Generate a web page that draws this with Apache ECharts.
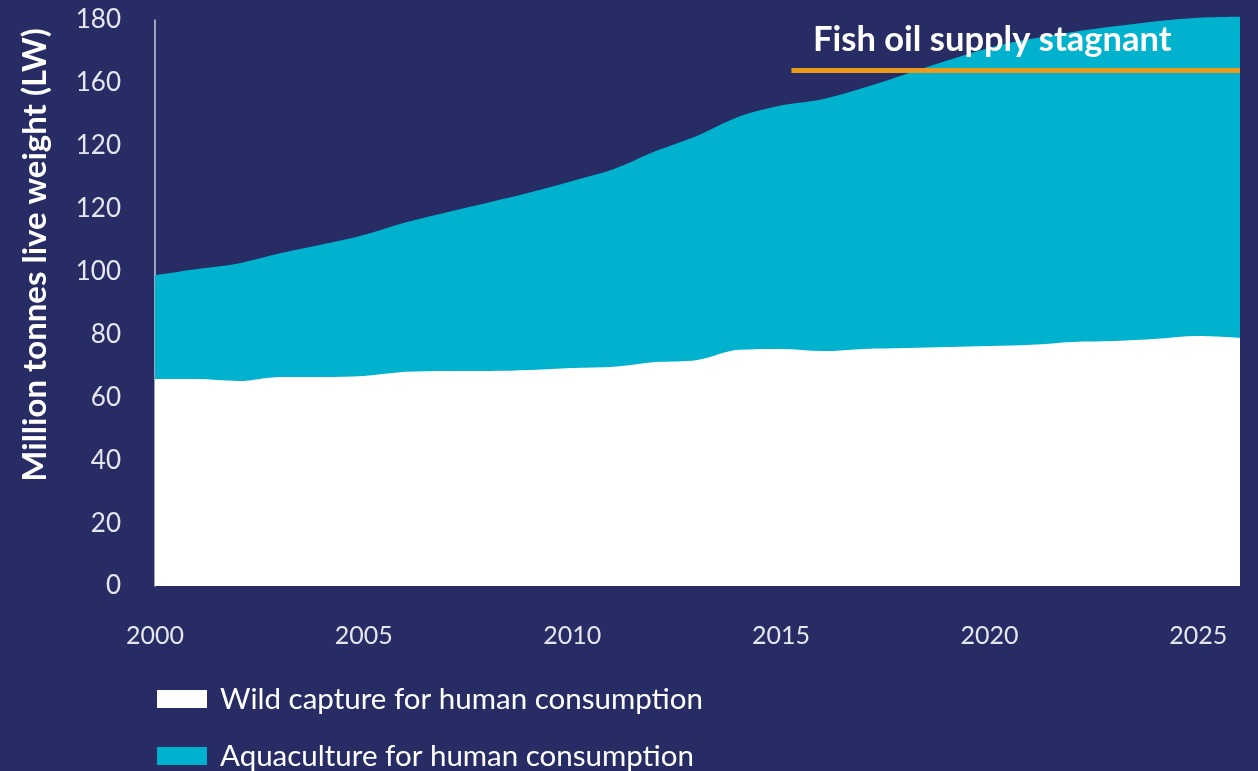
<!DOCTYPE html>
<html>
<head>
<meta charset="utf-8">
<script src="https://cdn.jsdelivr.net/npm/echarts@6/dist/echarts.min.js"></script>
<style>
  html, body { margin: 0; padding: 0; background: #272C65; }
  #chart { width: 1258px; height: 771px; }
</style>
</head>
<body>
<div id="chart"></div>
<script>
// Years covered by the series
const years = [2000, 2001, 2002, 2003, 2004, 2005, 2006, 2007, 2008, 2009,
               2010, 2011, 2012, 2013, 2014, 2015, 2016, 2017, 2018, 2019,
               2020, 2021, 2022, 2023, 2024, 2025, 2026];

// Million tonnes live weight
const wildCapture = [65.8, 65.8, 65.2, 66.5, 66.5, 66.8, 68.1, 68.4, 68.4, 68.7,
                     69.3, 69.7, 71.2, 71.9, 75.1, 75.4, 74.7, 75.4, 75.7, 76.0,
                     76.3, 76.7, 77.6, 77.9, 78.6, 79.5, 78.9];
const aquaculture = [33.0, 35.0, 37.4, 39.3, 42.1, 44.8, 47.5, 50.5, 53.6, 56.5,
                     59.5, 62.9, 67.1, 71.3, 74.2, 77.4, 80.1, 83.1, 87.1, 91.2,
                     94.9, 97.3, 98.6, 100.1, 101.0, 101.2, 102.1];

// Y tick labels as printed on the axis
const yTickLabels = ['0', '20', '40', '60', '80', '100', '120', '120', '160', '180'];

// Fish oil supply level line
const fishOilStart = 2015.25;
const fishOilEnd = 2026;
const fishOilLevel = 164;

const seriesNames = ['Wild capture for human consumption', 'Aquaculture for human consumption'];
const seriesColors = ['#FFFFFF', '#00B2CE'];

const FONT = 'Lato, "Open Sans", sans-serif';
const chart = echarts.init(document.getElementById('chart'));

// Aquaculture sits on top of wild capture: its band is drawn up to the running total,
// and the wild capture area is painted over it.
const wildPairs = years.map((y, i) => [y, wildCapture[i]]);
const totalPairs = years.map((y, i) => [y, +(wildCapture[i] + aquaculture[i]).toFixed(2)]);

// One single-item legend per series, stacked vertically under the axis
const legendTops = [684, 741];
const legends = seriesNames.map((name, i) => ({
  orient: 'horizontal',
  left: 157,
  top: legendTops[i],
  padding: 0,
  itemWidth: 50,
  itemHeight: 18,
  icon: 'rect',
  data: [name],
  textStyle: {
    color: '#FFFFFF', fontFamily: FONT, fontSize: 29.5,
    padding: [0, 0, 0, 8]
  }
}));

chart.setOption({
  backgroundColor: '#272C65',
  animation: false,
  grid: { left: 155, right: 18, top: 20, bottom: 185 },
  xAxis: {
    type: 'value',
    min: 2000,
    max: 2026,
    interval: 5,
    axisLine: { show: false },
    axisTick: { show: false },
    splitLine: { show: false },
    axisLabel: {
      showMaxLabel: false,
      color: '#E6E6EE',
      fontFamily: FONT,
      fontSize: 25,
      margin: 37,
      formatter: v => String(v)
    }
  },
  yAxis: {
    type: 'value',
    min: 0,
    max: 180,
    interval: 20,
    axisLine: { show: true, lineStyle: { color: '#C9CAE0', width: 1.5 } },
    axisTick: { show: false },
    splitLine: { show: false },
    axisLabel: {
      color: '#E6E6EE',
      fontFamily: FONT,
      fontSize: 26,
      margin: 34,
      formatter: v => yTickLabels[Math.round(v / 20)]
    }
  },
  legend: legends,
  graphic: [
    {
      type: 'text',
      z: 100,
      x: 35,
      y: 255,
      rotation: Math.PI / 2,
      style: {
        text: 'Million tonnes live weight (LW)',
        fill: '#FFFFFF',
        font: 'bold 33px ' + FONT,
        textAlign: 'center',
        textVerticalAlign: 'middle'
      }
    },
    {
      type: 'text',
      z: 100,
      x: 813,
      y: 40,
      style: {
        text: 'Fish oil supply stagnant',
        fill: '#FFFFFF',
        font: 'bold 34.5px ' + FONT,
        textAlign: 'left',
        textVerticalAlign: 'middle'
      }
    }
  ],
  series: [
    {
      name: seriesNames[1],
      type: 'line',
      z: 2,
      clip: false,
      smooth: 0.35,
      symbol: 'none',
      lineStyle: { width: 0 },
      itemStyle: { color: seriesColors[1] },
      areaStyle: { color: seriesColors[1], opacity: 1 },
      data: totalPairs,
      markLine: {
        silent: true,
        symbol: 'none',
        label: { show: false },
        lineStyle: { color: '#E99A1B', width: 5, type: 'solid' },
        data: [[{ coord: [fishOilStart, fishOilLevel] }, { coord: [fishOilEnd, fishOilLevel] }]]
      }
    },
    {
      name: seriesNames[0],
      type: 'line',
      z: 3,
      smooth: 0.35,
      symbol: 'none',
      lineStyle: { width: 0 },
      itemStyle: { color: seriesColors[0] },
      areaStyle: { color: seriesColors[0], opacity: 1 },
      data: wildPairs
    }
  ]
});
</script>
</body>
</html>
